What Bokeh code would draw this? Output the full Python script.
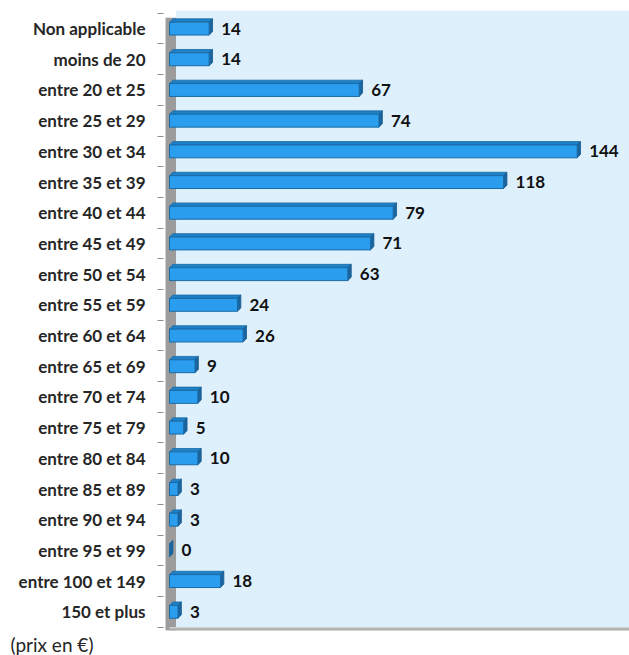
from bokeh.plotting import figure
from bokeh.models import Range1d, FixedTicker, Title, ColumnDataSource
from bokeh.core.properties import value
from bokeh.embed import file_html
from bokeh.resources import INLINE

categories = ["Non applicable", "moins de 20", "entre 20 et 25", "entre 25 et 29",
              "entre 30 et 34", "entre 35 et 39", "entre 40 et 44", "entre 45 et 49",
              "entre 50 et 54", "entre 55 et 59", "entre 60 et 64", "entre 65 et 69",
              "entre 70 et 74", "entre 75 et 79", "entre 80 et 84", "entre 85 et 89",
              "entre 90 et 94", "entre 95 et 99", "entre 100 et 149", "150 et plus"]
counts = [14, 14, 67, 74, 144, 118, 79, 71, 63, 24, 26, 9, 10, 5, 10, 3, 3, 0, 18, 3]
note = "(prix en €)"

n = len(categories)
ypos = list(range(n))

X0, X1 = -2.12, 162.5
Y_TOP, Y_BOT = -0.59, 19.61

p = figure(width=629, height=655, output_backend="svg", toolbar_location=None,
           x_range=Range1d(X0, X1), y_range=Range1d(Y_BOT, Y_TOP),
           min_border_left=163, min_border_right=0, min_border_top=10, min_border_bottom=0)
p.outline_line_color = None
p.background_fill_color = "white"
p.border_fill_color = "white"
p.grid.visible = False
p.xaxis.visible = False

# back panel, wall, floor
p.quad(left=[2.3], right=[X1], top=[Y_TOP], bottom=[n - 0.5], fill_color="#DDF0FC", line_color=None)
p.quad(left=[-1.4], right=[2.3], top=[-0.35], bottom=[n - 0.38], fill_color="#9C9C9C", line_color=None)
p.quad(left=[0], right=[X1], top=[n - 0.5], bottom=[n - 0.36], fill_color="#AFAFAF", line_color=None)
p.quad(left=[0], right=[X1], top=[n - 0.5], bottom=[n - 0.46], fill_color="#D0D0D0", line_color=None)

h = 0.42
dx, dy = 1.2, 0.11
src = ColumnDataSource(dict(y=ypos, v=counts, lbl=[str(c) for c in counts]))
# 3D top face and side face
top_xs, top_ys, side_xs, side_ys = [], [], [], []
for y, v in zip(ypos, counts):
    t = y - h / 2
    b = y + h / 2
    top_xs.append([0, v, v + dx, dx])
    top_ys.append([t, t, t - dy, t - dy])
    side_xs.append([v, v + dx, v + dx, v])
    side_ys.append([t, t - dy, b - dy, b])
p.patches(top_xs, top_ys, fill_color="#1E80C6", line_color="#1A6AA3", line_width=0.8)
p.patches(side_xs, side_ys, fill_color="#1A64A0", line_color="#175A8E", line_width=0.8)
p.hbar(y="y", right="v", left=0, height=h, source=src,
       fill_color="#2A9DEE", line_color="#1B6BA5", line_width=1)

p.text(x="v", y="y", text="lbl", source=src,
       x_offset=12, text_align="left", text_baseline="middle",
       text_font_size="17px", text_font_style="bold", text_color="#111111",
       text_font=value("Lato"))

ax = p.yaxis[0]
ax.ticker = FixedTicker(ticks=ypos, minor_ticks=[i - 0.5 for i in range(n + 1)])
ax.major_label_overrides = {i: c for i, c in enumerate(categories)}
ax.major_tick_line_color = None
ax.major_tick_out = 0
ax.major_tick_in = 0
ax.minor_tick_out = 6
ax.minor_tick_in = 0
ax.minor_tick_line_color = "#8C8C8C"
ax.axis_line_color = None
ax.major_label_standoff = 12
ax.major_label_text_font = "Lato"
ax.major_label_text_font_style = "bold"
ax.major_label_text_font_size = "17px"
ax.major_label_text_color = "#262626"

note_title = Title(text=note, align="left", offset=-153, text_font="Lato",
                   text_font_size="19px", text_font_style="normal", text_color="#262626",
                   standoff=0)
p.add_layout(note_title, "below")

open("out.html", "w").write(file_html(p, INLINE))
